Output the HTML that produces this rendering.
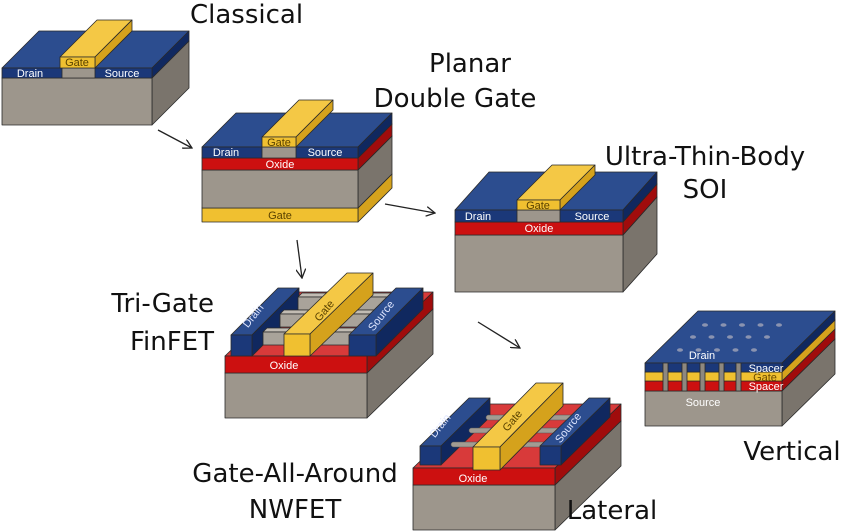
<!DOCTYPE html>
<html><head><meta charset="utf-8"><style>
html,body{margin:0;padding:0;background:#fff;width:850px;height:532px;overflow:hidden}
svg{display:block}
.t{font-family:"DejaVu Sans","Liberation Sans",sans-serif;font-size:26px;fill:#111}
.s{font-family:"Liberation Sans",sans-serif;font-size:11px;fill:#fff}
</style></head><body>
<svg id="s" width="850" height="532" viewBox="0 0 850 532" xmlns="http://www.w3.org/2000/svg">
<defs><marker id="ar" markerWidth="10" markerHeight="10" refX="9" refY="5" orient="auto" markerUnits="userSpaceOnUse"><path d="M0,0 L9,5 L0,10" fill="none" stroke="#222" stroke-width="1.3"/></marker></defs>
<g id="g" stroke="#2a2a2a" stroke-width="0.8" stroke-linejoin="round"></g>
<g stroke="#222" stroke-width="1.3" fill="none">
<line x1="158" y1="130" x2="192" y2="148" marker-end="url(#ar)"/>
<line x1="385" y1="204" x2="435" y2="213" marker-end="url(#ar)"/>
<line x1="297" y1="240" x2="302" y2="278" marker-end="url(#ar)"/>
<line x1="478" y1="322" x2="520" y2="348" marker-end="url(#ar)"/>
</g>
<text class="t" x="190" y="23">Classical</text>
<text class="t" x="470" y="72" text-anchor="middle">Planar</text>
<text class="t" x="455" y="107" text-anchor="middle">Double Gate</text>
<text class="t" x="705" y="165" text-anchor="middle">Ultra-Thin-Body</text>
<text class="t" x="705" y="198" text-anchor="middle">SOI</text>
<text class="t" x="214" y="312" text-anchor="end">Tri-Gate</text>
<text class="t" x="214" y="350" text-anchor="end">FinFET</text>
<text class="t" x="295" y="482" text-anchor="middle">Gate-All-Around</text>
<text class="t" x="295" y="518" text-anchor="middle">NWFET</text>
<text class="t" x="612" y="519" text-anchor="middle">Lateral</text>
<text class="t" x="792" y="460" text-anchor="middle">Vertical</text>
<g id="lb"></g>
</svg>
<script>
var C={
 gray:['#9d968c','#b3ada3','#7a746c'],
 blue:['#1b3879','#2c4d8f','#10285f'],
 red:['#cc1010','#d83a3a','#a00c0c'],
 gold:['#f0c030','#f4c845','#d5a21c'],
 lg:['#a9a39a','#c2bcb3','#8a847c']
};
var g=document.getElementById('g'),lb=document.getElementById('lb');
function P(pts,f){var p=document.createElementNS('http://www.w3.org/2000/svg','polygon');p.setAttribute('points',pts.map(function(a){return a.join(',')}).join(' '));p.setAttribute('fill',f);g.appendChild(p);}
function box(x,y,w,h,dx,dy,c){c=C[c];
 P([[x,y],[x+w,y],[x+w+dx,y+dy],[x+dx,y+dy]],c[1]);
 P([[x+w,y],[x+w+dx,y+dy],[x+w+dx,y+dy+h],[x+w,y+h]],c[2]);
 P([[x,y],[x+w,y],[x+w,y+h],[x,y+h]],c[0]);}
function rect(x,y,w,h,c){P([[x,y],[x+w,y],[x+w,y+h],[x,y+h]],C[c][0]);}
function T(x,y,s,col,rot,anchor,sz){var t=document.createElementNS('http://www.w3.org/2000/svg','text');t.setAttribute('x',x);t.setAttribute('y',y);t.setAttribute('class','s');if(col)t.style.fill=col;if(sz)t.style.fontSize=sz+'px';t.setAttribute('text-anchor',anchor||'middle');if(rot)t.setAttribute('transform','rotate('+rot+' '+x+' '+y+')');t.textContent=s;lb.appendChild(t);}
// Classical
box(2,78,150,47,37,-37,'gray');
box(2,68,150,10,37,-37,'blue');
rect(62,68,33,10,'gray');
box(60,57,35,11,37,-37,'gold');
T(30,77,'Drain');T(122,77,'Source');T(77,66,'Gate','#5a4200');
// Planar DG
box(202,208,156,14,34,-34,'gold');
box(202,170,156,38,34,-34,'gray');
box(202,158,156,12,34,-34,'red');
box(202,147,156,11,34,-34,'blue');
rect(262,147,34,11,'gray');
box(262,137,34,10,37,-37,'gold');
T(226,156,'Drain');T(325,156,'Source');T(280,168,'Oxide');T(279,146,'Gate','#5a4200');T(280,219,'Gate','#5a4200');
// UTB SOI
box(455,235,168,57,34,-38,'gray');
box(455,222,168,13,34,-38,'red');
box(455,210,168,12,34,-38,'blue');
rect(517,210,43,12,'gray');
box(517,200,43,10,35,-35,'gold');
T(478,220,'Drain');T(592,220,'Source');T(539,232,'Oxide');T(538,209,'Gate','#5a4200');
// Tri-gate
box(225,373,142,45,66,-64,'gray');
box(225,356,142,17,66,-64,'red');
box(231,335,21,21,47,-47,'blue');
[[46,297],[28,314],[11,332]].forEach(function(f){var d=f[0];box(252+d,f[1],97,13,4,-4,'lg');});
box(349,335,27,21,47,-47,'blue');
box(284,334,26,22,63,-61,'gold');
T(256,318,'Drain','#dfe6ff',-52);T(327,313,'Gate','#5a4200',-50);T(384,318,'Source','#dfe6ff',-52);T(284,369,'Oxide');
// GAA
box(413,485,142,45,66,-64,'gray');
box(413,468,142,17,66,-64,'red');
box(420,446,21,19,49,-48,'blue');
[[418,47],[431,30],[445,12]].forEach(function(f){var y=f[0],d=f[1];
 var r=document.createElementNS('http://www.w3.org/2000/svg','rect');r.setAttribute('x',441+d-2);r.setAttribute('y',y-3);r.setAttribute('width',102);r.setAttribute('height',5);r.setAttribute('rx',2.5);r.setAttribute('fill','#a29c93');r.setAttribute('stroke','#555');r.setAttribute('stroke-width','0.5');g.appendChild(r);});
box(540,446,21,19,49,-48,'blue');
box(473,447,27,23,63,-64,'gold');
T(443,428,'Drain','#dfe6ff',-52);T(515,423,'Gate','#5a4200',-50);T(571,430,'Source','#dfe6ff',-52);T(473,482,'Oxide');
// Vertical
box(645,391,137,35,53,-52,'gray');
box(645,381,137,10,53,-52,'red');
box(645,372,137,9,53,-52,'gold');
box(645,363,137,9,53,-52,'blue');
[663,682,700,719,736].forEach(function(x){var r=document.createElementNS('http://www.w3.org/2000/svg','rect');r.setAttribute('x',x);r.setAttribute('y',363);r.setAttribute('width',5);r.setAttribute('height',28);r.setAttribute('fill','#8e887f');g.appendChild(r);});
[[325,705],[337,693],[350,680]].forEach(function(r){for(var i=0;i<5;i++){var e=document.createElementNS('http://www.w3.org/2000/svg','ellipse');e.setAttribute('cx',r[1]+i*18.5);e.setAttribute('cy',r[0]);e.setAttribute('rx',3);e.setAttribute('ry',1.8);e.setAttribute('fill','#8a93b0');e.setAttribute('stroke','none');g.appendChild(e);}});
T(702,359,'Drain');T(766,372,'Spacer','#fff','', 'middle',11);T(765,381,'Gate','#6a4a00','', 'middle',11);T(766,390,'Spacer','#fff','', 'middle',11);T(703,406,'Source');
</script>
</body></html>
